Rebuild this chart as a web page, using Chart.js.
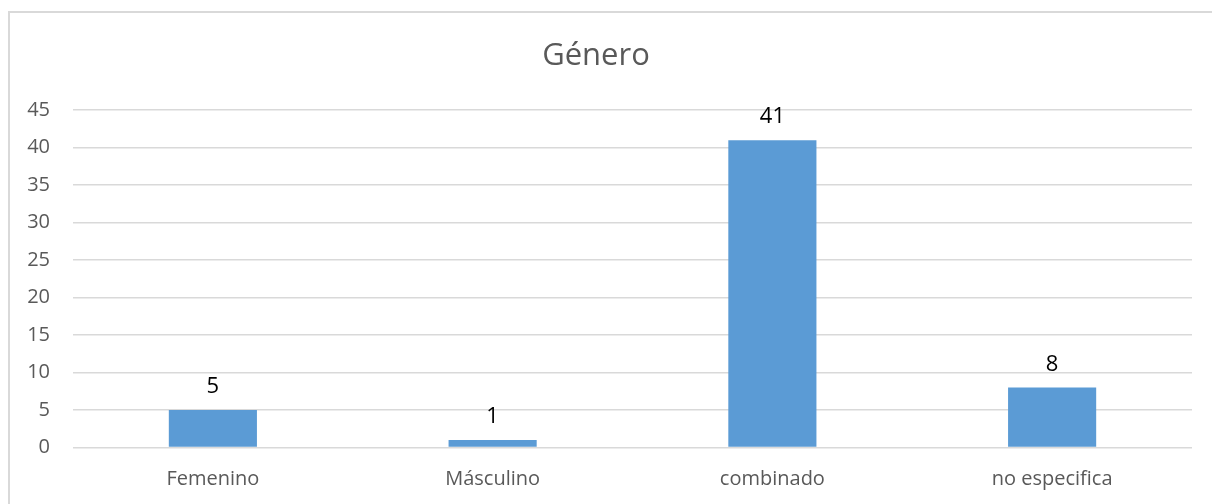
<!DOCTYPE html>
<html>
<head>
<meta charset="utf-8">
<script src="https://cdn.jsdelivr.net/npm/chart.js@4"></script>
<style>
  html, body { margin: 0; padding: 0; background: #fff; }
  #wrap { width: 1212px; height: 504px; }
</style>
</head>
<body>
<div id="wrap"><canvas id="chart1" width="1212" height="504"></canvas></div>
<script>
const categorias = ['Femenino', 'Másculino', 'combinado', 'no especifica'];
const valores = [5, 1, 41, 8];
const titulo = 'Género';

const textoGris = '#595959';
const lineaGris = '#d9d9d9';

// borde del área del gráfico (solo izquierda y arriba visibles)
const bordePlugin = {
    id: 'borde',
    beforeDraw(chart) {
        const ctx = chart.ctx;
        ctx.save();
        ctx.fillStyle = '#fff';
        ctx.fillRect(0, 0, chart.width, chart.height);
        ctx.strokeStyle = lineaGris;
        ctx.lineWidth = 2;
        ctx.beginPath();
        ctx.moveTo(9, chart.height);
        ctx.lineTo(9, 12);
        ctx.lineTo(chart.width, 12);
        ctx.stroke();
        ctx.restore();
    }
};

// etiquetas de datos encima de cada barra
const etiquetasPlugin = {
    id: 'etiquetas',
    afterDatasetsDraw(chart) {
        const ctx = chart.ctx;
        const meta = chart.getDatasetMeta(0);
        ctx.save();
        ctx.font = '22px "Open Sans"';
        ctx.fillStyle = '#000';
        ctx.textAlign = 'center';
        ctx.textBaseline = 'alphabetic';
        meta.data.forEach((bar, i) => {
            ctx.fillText(String(valores[i]), bar.x, bar.y - 17);
        });
        ctx.restore();
    }
};

const ctx = document.getElementById('chart1').getContext('2d');
new Chart(ctx, {
    type: 'bar',
    data: {
        labels: categorias,
        datasets: [{
            data: valores,
            backgroundColor: '#5b9bd5',
            borderWidth: 0,
            categoryPercentage: 1,
            barPercentage: 0.315
        }]
    },
    options: {
        responsive: false,
        animation: false,
        layout: { padding: { left: 0, right: 20, top: 0, bottom: 0 } },
        plugins: {
            legend: { display: false },
            tooltip: { enabled: false },
            title: {
                display: true,
                text: titulo,
                color: textoGris,
                font: { family: 'Open Sans', size: 31, weight: 'normal', lineHeight: 1.2 },
                padding: { top: 38, bottom: 35 }
            }
        },
        scales: {
            x: {
                grid: { display: false, drawTicks: false },
                border: { display: false },
                ticks: {
                    color: textoGris,
                    font: { family: 'Open Sans', size: 20 },
                    padding: 20
                },
                afterFit(scale) { scale.height = 56.5; }
            },
            y: {
                min: 0,
                max: 45,
                grid: { color: lineaGris, lineWidth: 1.5, drawTicks: false },
                border: { display: false },
                ticks: {
                    stepSize: 5,
                    color: textoGris,
                    font: { family: 'Open Sans', size: 20 },
                    padding: 23
                },
                afterFit(scale) { scale.width = 73; }
            }
        }
    },
    plugins: [bordePlugin, etiquetasPlugin]
});
</script>
</body>
</html>
